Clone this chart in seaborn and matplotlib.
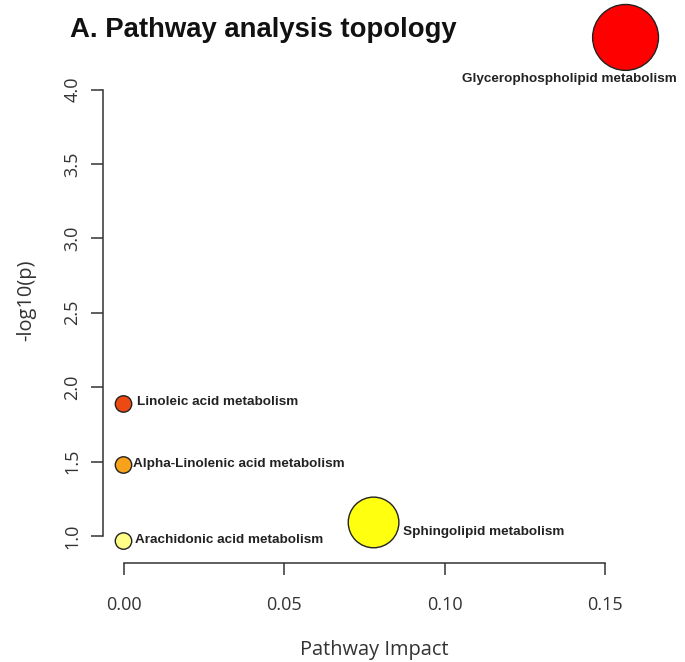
import matplotlib
matplotlib.use("Agg")
import matplotlib.pyplot as plt
import seaborn as sns
import pandas as pd

# ---- data ----
pathways = [
    "Glycerophospholipid metabolism",
    "Linoleic acid metabolism",
    "Alpha-Linolenic acid metabolism",
    "Arachidonic acid metabolism",
    "Sphingolipid metabolism",
]
impact = [0.1564, 0.0, 0.0, 0.0, 0.0779]
neg_log10_p = [4.35, 1.887, 1.477, 0.966, 1.091]
x_ticks = [0.00, 0.05, 0.10, 0.15]
x_tick_labels = ["0.00", "0.05", "0.10", "0.15"]
y_ticks = [1.0, 1.5, 2.0, 2.5, 3.0, 3.5, 4.0]
y_tick_labels = ["1.0", "1.5", "2.0", "2.5", "3.0", "3.5", "4.0"]
title = "A. Pathway analysis topology"
x_label = "Pathway Impact"
y_label = "-log10(p)"

df = pd.DataFrame({"pathway": pathways, "impact": impact, "logp": neg_log10_p})

# ---- styles ----
node_colors = {
    "Glycerophospholipid metabolism": "#FF0000",
    "Linoleic acid metabolism": "#EC4A12",
    "Alpha-Linolenic acid metabolism": "#F7A21A",
    "Arachidonic acid metabolism": "#FFFF88",
    "Sphingolipid metabolism": "#FFFF10",
}
node_areas = {
    "Glycerophospholipid metabolism": 2250,
    "Linoleic acid metabolism": 140,
    "Alpha-Linolenic acid metabolism": 140,
    "Arachidonic acid metabolism": 140,
    "Sphingolipid metabolism": 1330,
}
# label offsets in pixels (dx, dy downward) and horizontal alignment
label_layout = {
    "Glycerophospholipid metabolism": (-56.5, 44.5, "center"),
    "Linoleic acid metabolism": (13, 1, "left"),
    "Alpha-Linolenic acid metabolism": (9.5, 2, "left"),
    "Arachidonic acid metabolism": (11, 2, "left"),
    "Sphingolipid metabolism": (29, 12.5, "left"),
}

sns.set_style("white")
plt.rcParams["font.family"] = ["Liberation Sans", "DejaVu Sans"]

W, H = 685, 662
fig = plt.figure(figsize=(W / 100, H / 100), dpi=100)
ax = fig.add_axes([103 / W, 1 - 563 / H, 543 / W, 545 / H])

sns.scatterplot(
    data=df, x="impact", y="logp", hue="pathway", palette=node_colors,
    size="pathway", sizes=node_areas, edgecolor="#222222", linewidth=1.0,
    legend=False, clip_on=False, zorder=3, ax=ax, alpha=1,
)

ax.set_xlim(-0.00639, 0.16277)
ax.set_ylim(0.8185, 4.4805)

px = 72 / 100
for p, xv, yv in zip(pathways, impact, neg_log10_p):
    dx, dy, ha = label_layout[p]
    ax.annotate(p, (xv, yv), xytext=(dx * px, -dy * px), textcoords="offset points",
                ha=ha, va="baseline", fontsize=9.7, fontweight="bold",
                color="#222222", annotation_clip=False, zorder=4)

axis_col = "#333333"
for s in ["top", "right"]:
    ax.spines[s].set_visible(False)
ax.spines["left"].set_bounds(1.0, 4.0)
ax.spines["bottom"].set_bounds(0.0, 0.15)
for s in ["left", "bottom"]:
    ax.spines[s].set_color(axis_col)
    ax.spines[s].set_linewidth(1.1)

ax.set_xticks(x_ticks, labels=x_tick_labels)
ax.set_yticks(y_ticks, labels=y_tick_labels)
ax.tick_params(axis="both", which="major", direction="out", bottom=True, left=True,
               length=8.6, width=1.1, color=axis_col,
               labelsize=13, labelcolor="#333333")
ax.tick_params(axis="x", pad=15)
ax.tick_params(axis="y", pad=7)
for lab in ax.get_yticklabels():
    lab.set_rotation(90)
    lab.set_va("center")
    lab.set_ha("right")
for lab in ax.get_xticklabels() + ax.get_yticklabels():
    lab.set_family(["Open Sans", "DejaVu Sans"])

ax.set_xlabel(x_label, fontsize=14.4, color="#333333", family=["Open Sans", "DejaVu Sans"])
ax.set_ylabel(y_label, fontsize=14.4, color="#333333", family=["Open Sans", "DejaVu Sans"])
ax.xaxis.set_label_coords(0.5, (563 - 640) / 545)
ax.yaxis.set_label_coords((36 - 103) / 543, (563 - 300) / 545)

fig.text(70 / W, 1 - 37 / H, title, ha="left", va="baseline", fontsize=19.8,
         fontweight="bold", color="#111111")

fig.savefig("out.png", dpi=100)
